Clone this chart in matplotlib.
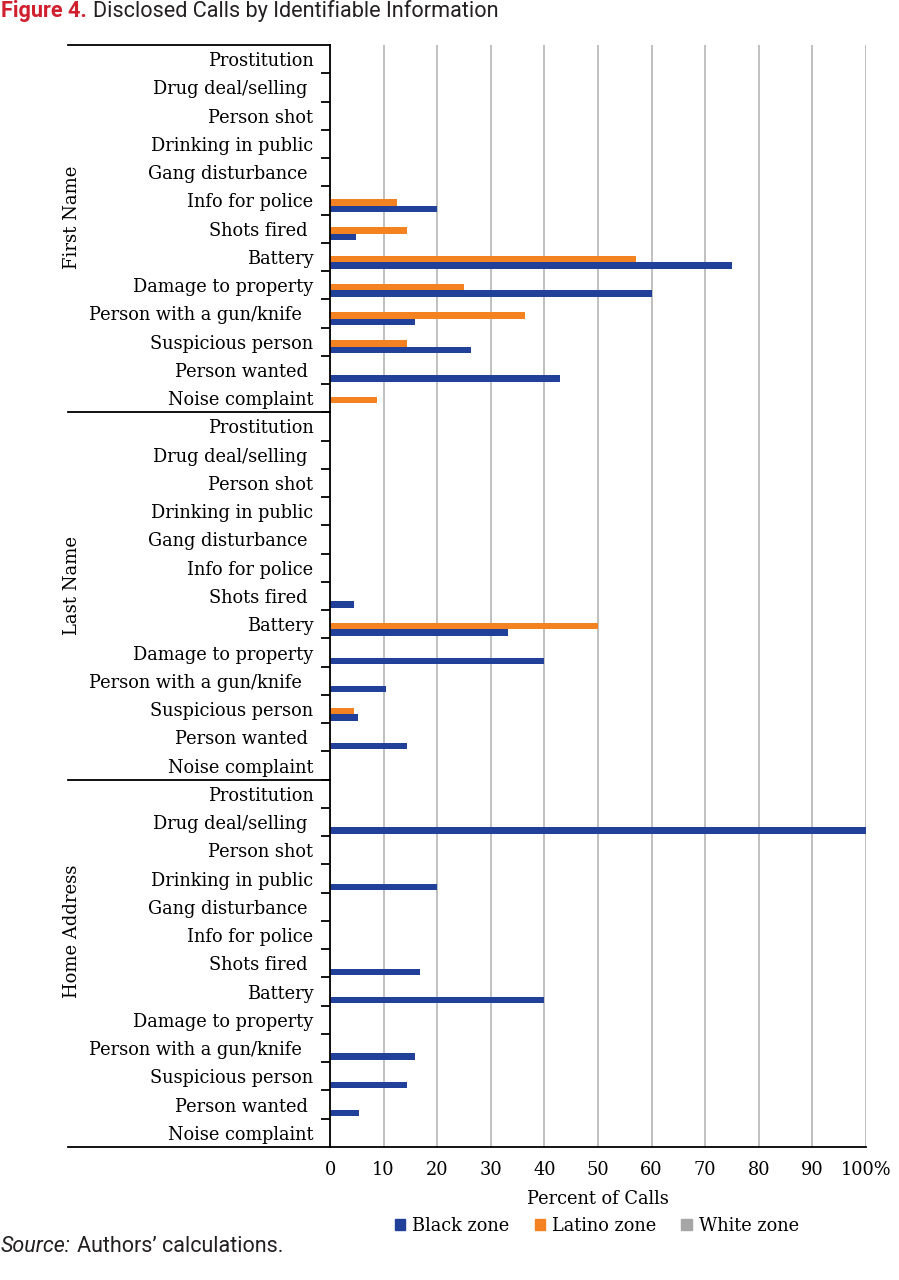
import matplotlib

matplotlib.use("Agg")
import matplotlib.pyplot as plt  # noqa: E402
import matplotlib.transforms as mtransforms  # noqa: E402
from matplotlib.patches import Patch  # noqa: E402

crimes = ["Prostitution", "Drug deal/selling ", "Person shot", "Drinking in public",
          "Gang disturbance ", "Info for police", "Shots fired ", "Battery",
          "Damage to property", "Person with a gun/knife  ", "Suspicious person",
          "Person wanted ", "Noise complaint"]
groups = ["First Name", "Last Name", "Home Address"]

first_black = [0, 0, 0, 0, 0, 20, 4.8, 75, 60, 15.8, 26.3, 42.9, 0]
first_latino = [0, 0, 0, 0, 0, 12.5, 14.3, 57.1, 25, 36.4, 14.3, 0, 8.8]
last_black = [0, 0, 0, 0, 0, 0, 4.5, 33.3, 40, 10.5, 5.3, 14.3, 0]
last_latino = [0, 0, 0, 0, 0, 0, 0, 50, 0, 0, 4.5, 0, 0]
home_black = [0, 100, 0, 20, 0, 0, 16.7, 40, 0, 15.8, 14.3, 5.4, 0]
home_latino = [0] * 13
white = [0] * 13

black = first_black + last_black + home_black
latino = first_latino + last_latino + home_latino
white_all = white * 3
labels = crimes * 3

BLUE = "#21409a"
ORANGE = "#f58220"
GREY = "#a6a6a6"
SERIF = "DejaVu Serif"

W, H = 899, 1280
fig = plt.figure(figsize=(W / 100, H / 100), dpi=100)
ax = fig.add_axes([330 / W, 1 - 1147 / H, 536 / W, 1102 / H])

n = len(labels)
pos = list(range(n))
h = 0.23
ax.barh([p - 0.16 for p in pos], white_all, h, color=GREY, linewidth=0)
ax.barh([p + 0.07 for p in pos], latino, h, color=ORANGE, linewidth=0)
ax.barh([p + 0.30 for p in pos], black, h, color=BLUE, linewidth=0)

ax.set_ylim(n - 0.5, -0.5)
ax.set_xlim(0, 100)

# boundaries as major ticks, names as minor ticks
ax.set_yticks([i + 0.5 for i in range(n - 1)])
ax.set_yticklabels([])
ax.tick_params(axis="y", which="major", length=6.5, width=1.3, direction="out")
ax.set_yticks(pos, minor=True)
ax.set_yticklabels(labels, minor=True, family=SERIF, fontsize=12.8)
ax.tick_params(axis="y", which="minor", length=0, pad=12)

ax.set_xticks(range(0, 101, 10))
ax.set_xticklabels([str(v) for v in range(0, 100, 10)] + ["100%"],
                   family=SERIF, fontsize=12.8)
ax.tick_params(axis="x", length=0, pad=10)
ax.grid(axis="x", color="#b5b5b5", lw=1.2)
ax.set_axisbelow(True)
for s in ["top", "right"]:
    ax.spines[s].set_visible(False)
ax.spines["left"].set_linewidth(1.3)
ax.spines["bottom"].set_linewidth(1.3)

ax.set_xlabel("Percent of Calls", family=SERIF, fontsize=12.8, labelpad=8)

# group separators in the label area
trans = mtransforms.blended_transform_factory(ax.transAxes, ax.transData)
x_left = (68 - 330) / 536
for yb in [-0.5, 12.5, 25.5, n - 0.5]:
    ax.plot([x_left, 0], [yb, yb], color="black", lw=1.3, transform=trans,
            clip_on=False)

group_y = [5.59, 18.64, 30.85]
for g, gy in zip(groups, group_y):
    ax.text((72 - 330) / 536, gy, g, rotation=90, ha="center", va="center",
            family=SERIF, fontsize=13, transform=trans)

handles = [Patch(color=BLUE), Patch(color=ORANGE), Patch(color=GREY)]
fig.legend(handles, ["Black zone", "Latino zone", "White zone"],
           loc="center", bbox_to_anchor=(597 / W, 1 - 1226 / H), ncol=3,
           frameon=False, handlelength=0.6, handleheight=0.6, handletextpad=0.4,
           columnspacing=1.4, prop={"family": SERIF, "size": 12.8})

# title
t1 = fig.text(1 / W, 1 - 11 / H, "Figure 4.", color="#d0202e", fontweight="bold",
              family="Roboto", fontsize=15.6, va="center")
fig.canvas.draw()
bb = t1.get_window_extent()
fig.text((bb.x1 + 6) / W, 1 - 11 / H, "Disclosed Calls by Identifiable Information",
         color="#231f20", family="Roboto", fontsize=15.6, va="center")

s1 = fig.text(1 / W, 1 - 1246 / H, "Source:", style="italic", family="Roboto",
              fontsize=15.5, va="center", color="#231f20")
fig.canvas.draw()
bb = s1.get_window_extent()
fig.text((bb.x1 + 6) / W, 1 - 1246 / H, "Authors\u2019 calculations.",
         family="Roboto", fontsize=15.5, va="center", color="#231f20")

fig.savefig("out.png", dpi=100)
